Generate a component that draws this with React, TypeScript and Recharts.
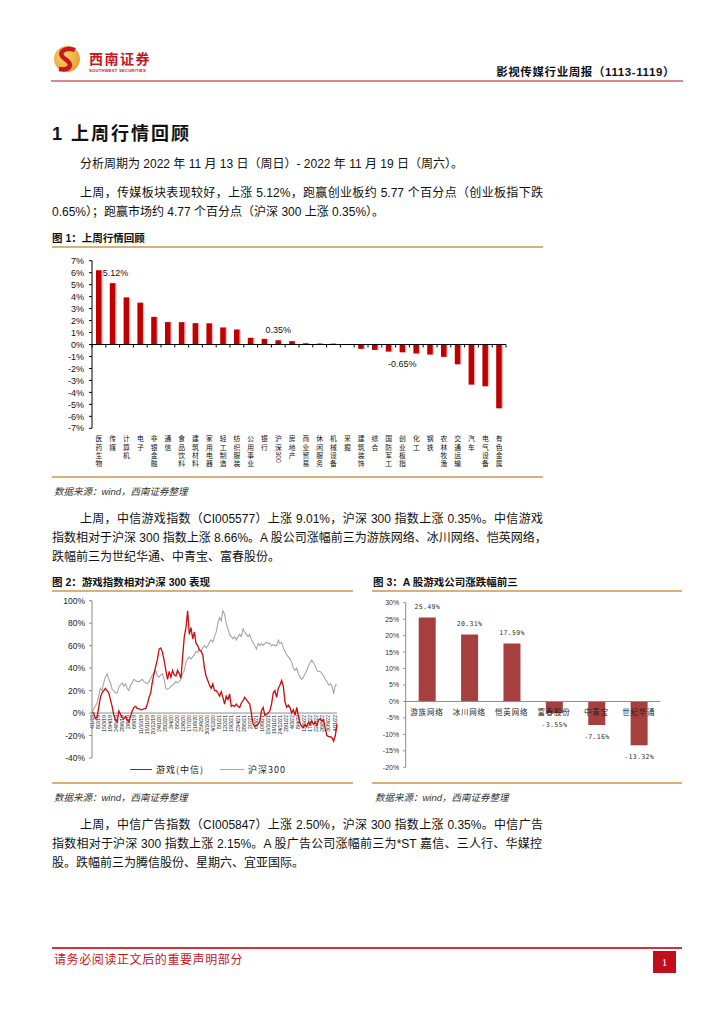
import React from 'react';
import {
  BarChart,
  Bar,
  LineChart,
  Line,
  XAxis,
  YAxis,
  ReferenceLine,
  LabelList,
} from 'recharts';

// ---- figure 1: sector weekly change (%)
const sectors = [
  '医药生物', '传媒', '计算机', '电子', '非银金融', '通信', '食品饮料', '建筑材料',
  '家用电器', '轻工制造', '纺织服装', '公用事业', '银行', '沪深300', '房地产', '商业贸易',
  '休闲服务', '机械设备', '采掘', '建筑装饰', '综合', '国防军工', '创业板指', '化工',
  '钢铁', '农林牧渔', '交通运输', '汽车', '电气设备', '有色金属',
];
const sectorChange = [
  6.2, 5.12, 3.93, 3.49, 2.31, 1.87, 1.86, 1.78, 1.77, 1.42, 1.25, 0.56, 0.47, 0.35, 0.28,
  0.1, 0.08, 0.07, -0.01, -0.36, -0.45, -0.59, -0.65, -0.75, -0.84, -1.03, -1.65, -3.35,
  -3.49, -5.33,
];
const sectorLabelled = [5.12, 0.35, -0.65];
const sectorTicks = [-7, -6, -5, -4, -3, -2, -1, 0, 1, 2, 3, 4, 5, 6, 7];

// ---- figure 2: game index vs CSI 300 (cumulative %)
const gameIndex = [
  1, 0, -5, -4, 5, 14, 18, 20, 22, 20, 18, 12, 6, -2, -6, -8, 2, -1, -4, -5,
  -3, -6, -8, -3, 2, 5, 6, 4, 4, 3, 3, 4, 4, 8, 14, 18, 28, 35, 42, 48,
  57, 58, 54, 47, 38, 30, 37, 32, 38, 34, 33, 38, 35, 31, 50, 68, 76, 91, 70, 76,
  66, 72, 62, 60, 56, 55, 52, 40, 33, 29, 25, 22, 26, 20, 20, 18, 15, 19, 14, 8,
  15, 12, 17, 6, 7, 6, 8, 6, 5, 9, 11, 14, 12, 10, 8, 0, -10, -12, -11, -10,
  -7, 2, 5, -2, -1, 0, 2, 8, 18, 20, 14, 22, 25, 29, 24, 10, 5, 7, 5, 0,
  3, -2, 5, -3, -9, -12, -13, -10, -12, -8, -10, -7, -10, -8, -11, -6, -5, -7, -6, -14,
  -20, -21, -21, -22, -25, -20, -10,
];
const hs300 = [
  0, 4, 6, 9, 15, 22, 20, 27, 32, 35, 30, 27, 21, 20, 18, 18, 23, 25, 27, 24,
  26, 22, 20, 25, 27, 30, 29, 28, 28, 29, 30, 28, 27, 26, 28, 31, 34, 36, 38, 33,
  32, 34, 35, 30, 22, 21, 22, 24, 25, 26, 28, 27, 28, 30, 35, 38, 45, 48, 50, 48,
  50, 52, 55, 54, 57, 55, 58, 60, 58, 60, 63, 65, 63, 68, 72, 80, 85, 82, 91, 88,
  80, 75, 70, 68, 66, 68, 65, 68, 70, 68, 75, 72, 70, 68, 70, 65, 63, 60, 57, 62,
  60, 62, 60, 62, 63, 62, 62, 60, 61, 60, 60, 65, 62, 63, 58, 55, 52, 50, 48, 45,
  40, 38, 40, 35, 32, 30, 32, 35, 38, 42, 45, 47, 45, 42, 38, 37, 37, 35, 33, 30,
  28, 25, 26, 24, 17, 25, 25,
];
const dateLabels = [
  '4/1/19', '8/2/19', '15/3/19', '19/4/19', '24/5/19', '28/6/19', '2/8/19', '6/9/19',
  '11/10/19', '15/11/19', '20/12/19', '24/1/20', '28/2/20', '3/4/20', '8/5/20', '12/6/20',
  '17/7/20', '21/8/20', '25/9/20', '30/10/20', '4/12/20', '8/1/21', '12/2/21', '19/3/21',
  '23/4/21', '28/5/21', '2/7/21', '6/8/21', '10/9/21', '15/10/21', '19/11/21', '24/12/21',
  '28/1/22', '4/3/22', '8/4/22', '13/5/22', '17/6/22', '22/7/22', '26/8/22', '30/9/22',
  '4/11/22',
];
const TOTAL_WEEKS = 202;
const LABEL_STEP_WEEKS = 5;
const indexTicks = [-40, -20, 0, 20, 40, 60, 80, 100];

// ---- figure 3: top game stocks
const companies = ['游族网络', '冰川网络', '恺英网络', '富春股份', '中青宝', '世纪华通'];
const companyChange = [25.49, 20.31, 17.59, -3.55, -7.16, -13.32];
const companyTicks = [-20, -15, -10, -5, 0, 5, 10, 15, 20, 25, 30];

const sectorData = sectors.map((name, i) => ({ name, value: sectorChange[i] }));
const indexData = gameIndex.map((v, i) => ({ t: i, game: v, hs: hs300[i] }));
const companyData = companies.map((name, i) => ({ name, value: companyChange[i] }));

const FONT = '"Liberation Sans", "Noto Sans CJK SC", sans-serif';
const CJK = '"Noto Sans CJK SC", sans-serif';
const GOLD = '#D9B07A';

function Txt(props: any) {
  const { x, cy, size = 12, w, bold, italic, color = '#111', spacing = 0, right, family, children } = props;
  const h = Math.round(size * 1.4);
  const style: React.CSSProperties = {
    position: 'absolute',
    top: cy - h / 2,
    height: h,
    lineHeight: `${h}px`,
    fontSize: size,
    whiteSpace: 'nowrap',
    fontWeight: bold ? 700 : 400,
    fontStyle: italic ? 'italic' : 'normal',
    color,
    letterSpacing: spacing,
    fontFamily: family || FONT,
  };
  if (right !== undefined) style.right = 724 - right;
  else style.left = x;
  if (w) {
    style.width = w;
    style.textAlign = 'justify';
    style.textAlignLast = 'justify';
  }
  return <div style={style}>{children}</div>;
}

function HLine({ x1, x2, y, color, h = 1 }: any) {
  return (
    <div style={{ position: 'absolute', left: x1, top: y - h / 2, width: x2 - x1, height: h, background: color }} />
  );
}

// vertical (stacked) category name, digits turned sideways
const VerticalTick = (p: any) => {
  const { x, y, payload } = p;
  const parts: string[] = String(payload.value).match(/\d+|./g) || [];
  let base = y + 13;
  return (
    <g>
      {parts.map((s, i) => {
        if (/^\d+$/.test(s)) {
          const top = base - 6.2;
          const el = (
            <text key={i} x={x} y={top} transform={`rotate(90 ${x} ${top})`} fontSize={6.8}
              dominantBaseline="central" fill="#111" fontFamily={FONT}>{s}</text>
          );
          base += s.length * 4 + 1.5;
          return el;
        }
        const el = (
          <text key={i} x={x} y={base} textAnchor="middle" fontSize={6.8} fill="#111" fontFamily={CJK}>{s}</text>
        );
        base += 8.2;
        return el;
      })}
    </g>
  );
};

const ShadowBar = (p: any) => {
  const { x, y, width, height, fill } = p;
  const top = Math.min(y, y + height);
  const h = Math.abs(height);
  return (
    <g>
      <rect x={x + 1.3} y={top} width={width} height={h} fill="#F4BDBD" />
      <rect x={x} y={top} width={width} height={h} fill={fill} />
    </g>
  );
};

const sectorLabel = (p: any) => {
  const { x, y, width, height, value } = p;
  if (!sectorLabelled.includes(value)) return null;
  const top = Math.min(y, y + height);
  const bottom = Math.max(y, y + height);
  const cx = x + width / 2 + (value > 1 ? 3 : 0);
  return (
    <text x={cx} y={value >= 0 ? top - 7 : bottom + 15} textAnchor="middle" fontSize={9} fill="#111" fontFamily={FONT}>
      {value.toFixed(2)}%
    </text>
  );
};

const zeroTicks = (p: any) => {
  const { x, y, width } = p.viewBox;
  const n = sectors.length;
  return (
    <g>
      {sectors.map((s, k) => (
        <line key={s} x1={x + ((k + 1) * width) / n} x2={x + ((k + 1) * width) / n} y1={y} y2={y + 3} stroke="#000" />
      ))}
      <line x1={x} x2={x} y1={y} y2={y + 3} stroke="#000" />
    </g>
  );
};

const dateAxis = (p: any) => {
  const { x, y, width } = p.viewBox;
  return (
    <g>
      {dateLabels.map((d, k) => {
        const px = x + (width * k * LABEL_STEP_WEEKS) / TOTAL_WEEKS;
        return (
          <text key={d} x={px} y={y + 2} transform={`rotate(-90 ${px} ${y + 2})`} textAnchor="end"
            dominantBaseline="central" fontSize={5} fill="#222" fontFamily={FONT}>{d}</text>
        );
      })}
    </g>
  );
};

const companyAxis = (p: any) => {
  const { x, y, width } = p.viewBox;
  const n = companies.length;
  return (
    <g>
      {companies.map((c, i) => (
        <text key={c} x={x + ((i + 0.5) * width) / n} y={y + 14} textAnchor="middle" fontSize={7.5}
          letterSpacing={0.8} fill="#222" fontFamily={CJK}>{c}</text>
      ))}
    </g>
  );
};

const companyLabel = (p: any) => {
  const { x, y, width, height, value } = p;
  const top = Math.min(y, y + height);
  const bottom = Math.max(y, y + height);
  return (
    <text x={x + width / 2} y={value >= 0 ? top - 9 : bottom + 14} textAnchor="middle" fontSize={6.6}
      letterSpacing={0.3} fill="#333" fontFamily='"DejaVu Sans Mono", monospace'>
      {value.toFixed(2)}%
    </text>
  );
};

const Logo = () => (
  <svg width={100} height={34} style={{ position: 'absolute', left: 53, top: 44 }}>
    <defs>
      <radialGradient id="lg" cx="40%" cy="40%" r="70%">
        <stop offset="0%" stopColor="#F9D46B" />
        <stop offset="100%" stopColor="#E59A2E" />
      </radialGradient>
    </defs>
    <circle cx={14} cy={15} r={13} fill="url(#lg)" />
    <path d="M22 6 C 12 2, 3 9, 12 15 C 21 20, 17 27, 6 25" stroke="#C8161D" strokeWidth={4.5} fill="none" />
    <text x={36} y={20} fontSize={14} fontWeight={700} fill="#C8161D" letterSpacing={1.5} fontFamily={CJK}>西南证券</text>
    <text x={36} y={28} fontSize={4.2} fontWeight={700} fill="#C8161D" letterSpacing={0.2} fontFamily={FONT}>SOUTHWEST SECURITIES</text>
  </svg>
);

const SectorChart = () => (
  <div style={{ position: 'absolute', left: 40, top: 250 }}>
    <BarChart width={480} height={224} data={sectorData} margin={{ top: 10.7, right: 14, bottom: 0, left: 0 }}>
      <XAxis dataKey="name" interval={0} axisLine={false} tickLine={false} tickSize={0} tickMargin={0}
        height={45.7} tick={<VerticalTick />} />
      <YAxis width={52} domain={[-7, 7]} ticks={sectorTicks} interval={0} tickSize={3} tickMargin={5}
        tickFormatter={(v: number) => `${v}%`} axisLine={{ stroke: '#000' }} tickLine={{ stroke: '#000' }}
        tick={{ fontSize: 9, fill: '#111', fontFamily: FONT }} />
      <ReferenceLine y={0} stroke="#000" label={zeroTicks} />
      <Bar dataKey="value" fill="#C00000" barSize={5.5} shape={<ShadowBar />} isAnimationActive={false}>
        <LabelList dataKey="value" content={sectorLabel} />
      </Bar>
    </BarChart>
  </div>
);

const IndexChart = () => (
  <div style={{ position: 'absolute', left: 40, top: 595 }}>
    <LineChart width={310} height={185} data={indexData} margin={{ top: 5.7, right: 13, bottom: 22, left: 0 }}>
      <XAxis dataKey="t" hide />
      <YAxis width={52} domain={[-40, 100]} ticks={indexTicks} interval={0} tickSize={3} tickMargin={4}
        tickFormatter={(v: number) => `${v}%`} axisLine={{ stroke: '#8C8C8C' }} tickLine={{ stroke: '#8C8C8C' }}
        tick={{ fontSize: 8.5, fill: '#222', fontFamily: FONT }} />
      <ReferenceLine y={0} stroke="#8C8C8C" label={dateAxis} />
      <Line dataKey="hs" stroke="#A6A6A6" strokeWidth={1.1} dot={false} isAnimationActive={false} />
      <Line dataKey="game" stroke="#CC0A0A" strokeWidth={1.3} dot={false} isAnimationActive={false} />
    </LineChart>
    <div style={{ position: 'absolute', left: 90, top: 168, display: 'flex', alignItems: 'center', fontFamily: CJK, fontSize: 9, letterSpacing: 1, color: '#222', whiteSpace: 'nowrap' }}>
      <span style={{ display: 'inline-block', width: 22, height: 1.4, background: '#CC0A0A', marginRight: 4 }} />
      <span>游戏(中信)</span>
      <span style={{ display: 'inline-block', width: 24, height: 1.4, background: '#A6A6A6', marginLeft: 16, marginRight: 4 }} />
      <span>沪深300</span>
    </div>
  </div>
);

const CompanyChart = () => (
  <div style={{ position: 'absolute', left: 365, top: 595 }}>
    <BarChart width={300} height={180} data={companyData} margin={{ top: 7.7, right: 5, bottom: 7.7, left: 0 }}>
      <XAxis dataKey="name" hide />
      <YAxis width={40.7} domain={[-20, 30]} ticks={companyTicks} interval={0} tickSize={2.5} tickMargin={4}
        tickFormatter={(v: number) => `${v}%`} axisLine={{ stroke: '#8C8C8C' }} tickLine={{ stroke: '#8C8C8C' }}
        tick={{ fontSize: 7, fill: '#333', fontFamily: FONT }} />
      <ReferenceLine y={0} stroke="#8C8C8C" label={companyAxis} />
      <Bar dataKey="value" fill="#A5403F" barSize={17} isAnimationActive={false}>
        <LabelList dataKey="value" content={companyLabel} />
      </Bar>
    </BarChart>
  </div>
);

export default function App() {
  return (
    <div style={{ position: 'absolute', left: 0, top: 0, width: 724, height: 1024, background: '#fff', fontFamily: FONT, overflow: 'hidden' }}>
      <Logo />
      <Txt right={675} cy={72} size={11.5} bold spacing={0.6}>影视传媒行业周报（1113-1119）</Txt>
      <HLine x1={51} x2={683} y={81} color="#DF8590" h={2} />

      <Txt x={52} cy={134} size={18} bold spacing={2}>1 上周行情回顾</Txt>
      <Txt x={80} cy={164} size={12}>分析周期为 2022 年 11 月 13 日（周日）- 2022 年 11 月 19 日（周六）。</Txt>
      <Txt x={80} cy={193} size={12} w={463}>上周，传媒板块表现较好，上涨 5.12%，跑赢创业板约 5.77 个百分点（创业板指下跌</Txt>
      <Txt x={52} cy={212} size={12}>0.65%）；跑赢市场约 4.77 个百分点（沪深 300 上涨 0.35%）。</Txt>

      <Txt x={52} cy={238} size={10.5} bold>图 1：上周行情回顾</Txt>
      <HLine x1={52} x2={543} y={247} color={GOLD} h={1.5} />
      <SectorChart />
      <HLine x1={52} x2={543} y={477} color={GOLD} h={1.5} />
      <Txt x={54} cy={491} size={9.5} italic color="#333">数据来源：wind，西南证券整理</Txt>

      <Txt x={80} cy={519} size={12} w={463}>上周，中信游戏指数（CI005577）上涨 9.01%，沪深 300 指数上涨 0.35%。中信游戏</Txt>
      <Txt x={52} cy={538} size={12} w={490}>指数相对于沪深 300 指数上涨 8.66%。A 股公司涨幅前三为游族网络、冰川网络、恺英网络，</Txt>
      <Txt x={52} cy={557} size={12}>跌幅前三为世纪华通、中青宝、富春股份。</Txt>

      <Txt x={52} cy={582} size={10.5} bold>图 2：游戏指数相对沪深 300 表现</Txt>
      <Txt x={373} cy={582} size={10.5} bold>图 3：A 股游戏公司涨跌幅前三</Txt>
      <HLine x1={52} x2={353} y={591} color={GOLD} h={1.5} />
      <HLine x1={372} x2={682} y={591} color={GOLD} h={1.5} />
      <IndexChart />
      <CompanyChart />
      <HLine x1={52} x2={353} y={783} color={GOLD} h={1.5} />
      <HLine x1={372} x2={682} y={783} color={GOLD} h={1.5} />
      <Txt x={54} cy={797} size={9.5} italic color="#333">数据来源：wind，西南证券整理</Txt>
      <Txt x={375} cy={797} size={9.5} italic color="#333">数据来源：wind，西南证券整理</Txt>

      <Txt x={80} cy={825} size={12} w={463}>上周，中信广告指数（CI005847）上涨 2.50%，沪深 300 指数上涨 0.35%。中信广告</Txt>
      <Txt x={52} cy={844} size={12} w={490}>指数相对于沪深 300 指数上涨 2.15%。A 股广告公司涨幅前三为*ST 嘉信、三人行、华媒控</Txt>
      <Txt x={52} cy={863} size={12}>股。跌幅前三为腾信股份、星期六、宜亚国际。</Txt>

      <HLine x1={52} x2={682} y={948} color="#D7303C" h={1.5} />
      <Txt x={54} cy={958} size={12} color="#C8161D" spacing={0.6} family={CJK}>请务必阅读正文后的重要声明部分</Txt>
      <div style={{ position: 'absolute', left: 653, top: 951, width: 23, height: 22, background: '#C00E1A', color: '#fff', fontSize: 11, lineHeight: '22px', textAlign: 'center', fontFamily: '"Liberation Serif", serif' }}>1</div>
    </div>
  );
}
